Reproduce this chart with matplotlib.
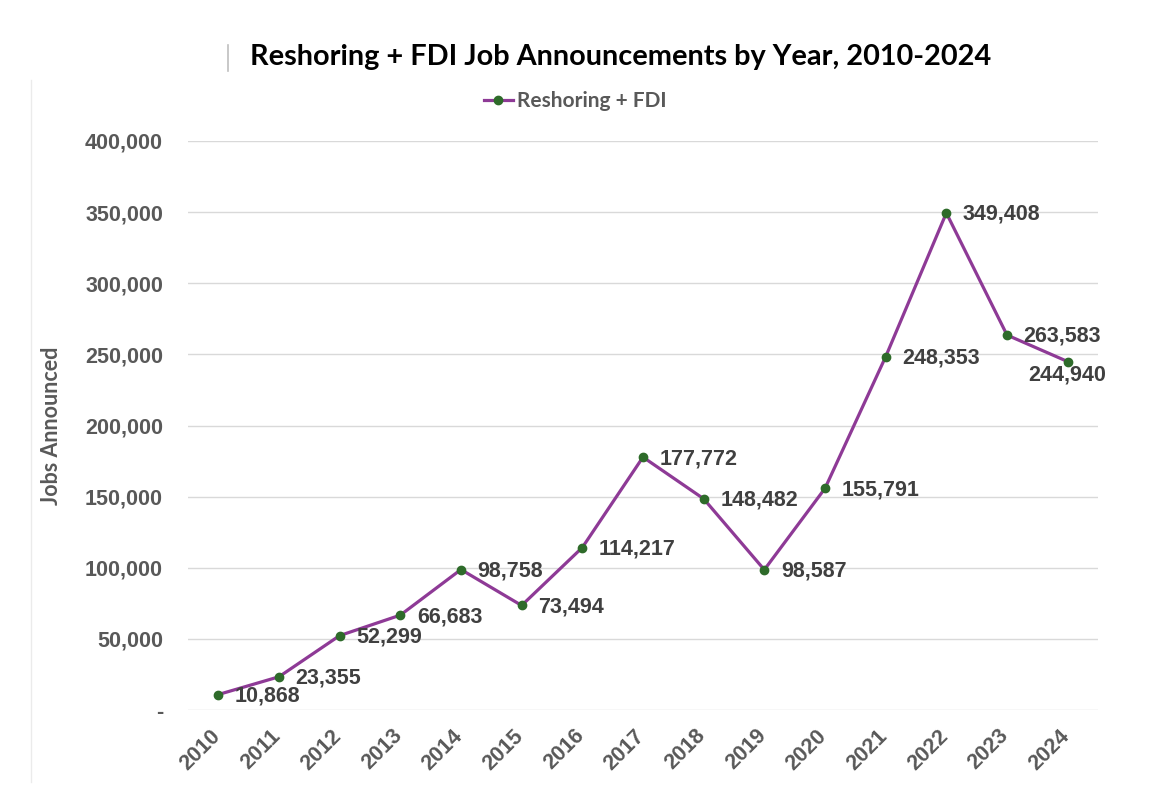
"""Reshoring + FDI job announcements line chart."""

import matplotlib

matplotlib.use("Agg")
import matplotlib.pyplot as plt
from matplotlib.lines import Line2D
from matplotlib.ticker import FuncFormatter
from matplotlib.transforms import ScaledTranslation

years = [str(y) for y in range(2010, 2025)]
jobs = [10868, 23355, 52299, 66683, 98758, 73494, 114217, 177772,
        148482, 98587, 155791, 248353, 349408, 263583, 244940]
y_ticks = [0, 50000, 100000, 150000, 200000, 250000, 300000, 350000, 400000]
series_name = "Reshoring + FDI"
title = "Reshoring + FDI Job Announcements by Year, 2010-2024"

LINE = "#8e3a96"
MARK = "#2e6b2a"
GREY = "#595959"
LABEL = "#404040"

fig = plt.figure(figsize=(11.58, 8.02), dpi=100)
ax = fig.add_axes([0.1623, 0.1147, 0.7859, 0.7095])

x = range(len(years))
ax.plot(x, jobs, color=LINE, lw=2.3, marker="o", markersize=6,
        markerfacecolor=MARK, markeredgecolor=MARK, label=series_name, zorder=3)

for i, v in enumerate(jobs):
    if i == len(jobs) - 1:
        ax.annotate(f"{v:,}", (i, v), xytext=(0, -10), textcoords="offset points",
                    ha="center", va="center", fontsize=15.5, fontweight="bold",
                    color=LABEL, family="Liberation Sans")
    else:
        ax.annotate(f"{v:,}", (i, v), xytext=(12, -1), textcoords="offset points",
                    ha="left", va="center", fontsize=15.5, fontweight="bold",
                    color=LABEL, family="Liberation Sans")

ax.set_xlim(-0.5, len(years) - 0.5)
ax.set_ylim(0, 400000)
ax.set_yticks(y_ticks)
ax.yaxis.set_major_formatter(FuncFormatter(lambda v, p: "-" if v == 0 else f"{v:,.0f}"))
ax.set_xticks(list(x))
ax.set_xticklabels(years, rotation=45, ha="right")
ax.grid(axis="y", color="#d9d9d9", lw=1)
ax.set_axisbelow(True)
for s in ax.spines.values():
    s.set_visible(False)
ax.tick_params(axis="both", length=0, colors=GREY)
ax.tick_params(axis="y", pad=18)
ax.tick_params(axis="x", pad=11)
for lab in ax.get_yticklabels() + ax.get_xticklabels():
    lab.set_fontsize(15.5)
    lab.set_fontweight("bold")
    lab.set_family("Liberation Sans")
shift = ScaledTranslation(6 / 100, 0, fig.dpi_scale_trans)
for lab in ax.get_xticklabels():
    lab.set_transform(lab.get_transform() + shift)

ax.set_ylabel("Jobs Announced", fontsize=15.5, fontweight="bold", color=GREY,
              family="Lato")
ax.yaxis.set_label_coords(-0.138, 0.5)

leg = ax.legend(loc="center", bbox_to_anchor=(575 / 1158, 1 - 101 / 802),
                bbox_transform=fig.transFigure, frameon=False, handlelength=1.4,
                handletextpad=0.2, prop={"family": "Lato", "size": 15, "weight": "bold"})
for t in leg.get_texts():
    t.set_color(GREY)

fig.text(621 / 1158, 1 - 57 / 802, title, ha="center", va="center",
         fontsize=20.8, fontweight="bold", family="Lato", color="black")
fig.add_artist(Line2D([228 / 1158, 228 / 1158], [1 - 45 / 802, 1 - 71 / 802],
                      color="#bfbfbf", lw=1.2))
fig.add_artist(Line2D([31 / 1158, 31 / 1158], [1 - 80 / 802, 1 - 782 / 802],
                      color="#ebebeb", lw=1))

fig.savefig("out.png", dpi=100)
